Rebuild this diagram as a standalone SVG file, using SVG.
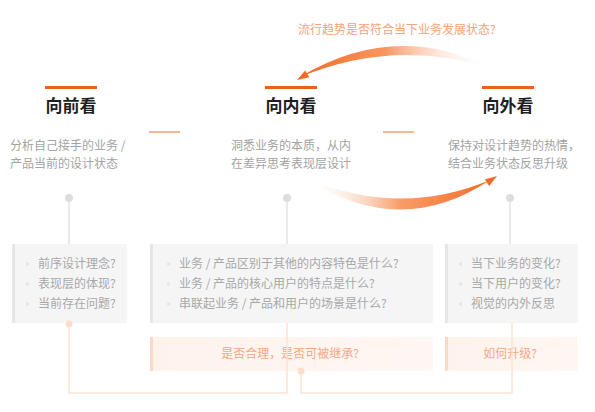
<svg xmlns="http://www.w3.org/2000/svg" width="595" height="412" viewBox="0 0 595 412">
<defs>
<style>
text{font-family:"Noto Sans CJK SC","Noto Sans",sans-serif;}
.title{font-size:17px;font-weight:bold;fill:#1f1f1f;text-anchor:middle;}
.desc{font-size:12px;fill:#a3a3a3;}
.item{font-size:12px;fill:#a8a8a8;}
.q{font-size:12px;fill:#f5a883;text-anchor:middle;}
.bar{fill:#e8621f;}
.sep{fill:#f6b894;}
.box{fill:#f5f5f5;}
.boxedge{fill:#e6e6e6;}
.obox{fill:url(#og);}
.oedge{fill:#fcd9c6;}
.bullet{fill:#e6e6e6;}
.pin{fill:#dedede;}
.pinline{stroke:#e3e3e3;stroke-width:1.5;fill:none;}
.conn{stroke:#fde3d4;stroke-width:1.5;fill:none;}
.dot{fill:#fddccb;}
</style>
<linearGradient id="topg" gradientUnits="userSpaceOnUse" x1="300" y1="0" x2="490" y2="0">
<stop offset="0" stop-color="#f26a25"/>
<stop offset="0.45" stop-color="#f7975f"/>
<stop offset="1" stop-color="#ffffff" stop-opacity="0"/>
</linearGradient>
<linearGradient id="botg" gradientUnits="userSpaceOnUse" x1="305" y1="0" x2="495" y2="0">
<stop offset="0" stop-color="#ffffff" stop-opacity="0"/>
<stop offset="0.5" stop-color="#f89c68"/>
<stop offset="1" stop-color="#f26a25"/>
</linearGradient>
<linearGradient id="og" x1="0" y1="0" x2="1" y2="0">
<stop offset="0" stop-color="#fef3ec"/>
<stop offset="1" stop-color="#fff7f3"/>
</linearGradient>
</defs>

<g id="trend-arc">
<text x="298" y="34" font-size="12" fill="#f5a27b" style="font-size:12px">流行趋势是否符合当下业务发展状态?</text>
<path d="M300 77 Q395 20 490 68 Q395 38 300 77 Z" fill="url(#topg)"/>
<polygon points="297,80 309.4,77.2 305.2,70.4" fill="#f26a25"/>
</g>

<g id="node-forward">
<rect class="bar" x="45" y="86" width="52" height="3"/>
<text class="title" x="71" y="112">向前看</text>
<text class="desc" x="10" y="150">分析自己接手的业务 /</text>
<text class="desc" x="10" y="168">产品当前的设计状态</text>
</g>

<g id="node-inward">
<rect class="bar" x="265" y="86" width="52" height="3"/>
<text class="title" x="291" y="112">向内看</text>
<text class="desc" x="231" y="150">洞悉业务的本质，从内</text>
<text class="desc" x="231" y="168">在差异思考表现层设计</text>
</g>

<g id="node-outward">
<rect class="bar" x="482" y="86" width="52" height="3"/>
<text class="title" x="508" y="112">向外看</text>
<text class="desc" x="448" y="150">保持对设计趋势的热情，</text>
<text class="desc" x="448" y="168">结合业务状态反思升级</text>
</g>

<g id="separators">
<rect class="sep" x="149" y="131" width="31" height="2"/>
<rect class="sep" x="383" y="131" width="31" height="2"/>
</g>

<g id="bottom-arc">
<path d="M305 178 Q400 240 490 180 Q400 218 305 178 Z" fill="url(#botg)"/>
<polygon points="497,176 489.2,186 484.8,179.4" fill="#f26a25"/>
</g>

<g id="pins">
<line class="pinline" x1="69" y1="198" x2="69" y2="244"/>
<circle class="pin" cx="69" cy="198" r="4"/>
<line class="pinline" x1="287" y1="198" x2="287" y2="244"/>
<circle class="pin" cx="287" cy="198" r="4"/>
<line class="pinline" x1="510" y1="198" x2="510" y2="244"/>
<circle class="pin" cx="510" cy="198" r="4"/>
</g>

<g id="box-forward">
<rect class="box" x="12" y="244" width="115" height="79"/>
<rect class="boxedge" x="12" y="244" width="3" height="79"/>
<rect class="bullet" x="26" y="262.5" width="3" height="3"/>
<rect class="bullet" x="26" y="282.5" width="3" height="3"/>
<rect class="bullet" x="26" y="302.5" width="3" height="3"/>
<text class="item" x="38" y="268">前序设计理念?</text>
<text class="item" x="38" y="288">表现层的体现?</text>
<text class="item" x="38" y="308">当前存在问题?</text>
</g>

<g id="box-inward">
<rect class="box" x="150" y="244" width="283" height="79"/>
<rect class="boxedge" x="150" y="244" width="3" height="79"/>
<rect class="bullet" x="167" y="262.5" width="3" height="3"/>
<rect class="bullet" x="167" y="282.5" width="3" height="3"/>
<rect class="bullet" x="167" y="302.5" width="3" height="3"/>
<text class="item" x="179" y="268">业务 / 产品区别于其他的内容特色是什么?</text>
<text class="item" x="179" y="288">业务 / 产品的核心用户的特点是什么?</text>
<text class="item" x="179" y="308">串联起业务 / 产品和用户的场景是什么?</text>
</g>

<g id="box-outward">
<rect class="box" x="445" y="244" width="133" height="79"/>
<rect class="boxedge" x="445" y="244" width="3" height="79"/>
<rect class="bullet" x="459" y="262.5" width="3" height="3"/>
<rect class="bullet" x="459" y="282.5" width="3" height="3"/>
<rect class="bullet" x="459" y="302.5" width="3" height="3"/>
<text class="item" x="471" y="268">当下业务的变化?</text>
<text class="item" x="471" y="288">当下用户的变化?</text>
<text class="item" x="471" y="308">视觉的内外反思</text>
</g>

<g id="question-inward">
<rect class="obox" x="150" y="337" width="283" height="34"/>
<rect class="oedge" x="150" y="337" width="3" height="34"/>
<text class="q" x="290" y="358">是否合理，是否可被继承?</text>
</g>

<g id="question-outward">
<rect class="obox" x="445" y="337" width="133" height="34"/>
<rect class="oedge" x="445" y="337" width="3" height="34"/>
<text class="q" x="510" y="358">如何升级?</text>
</g>

<g id="connectors">
<polyline class="conn" points="69,324 69,393 287,393 287,323"/>
<circle class="dot" cx="69" cy="324" r="3.5"/>
<polyline class="conn" points="301,371 301,393 512,393 512,323"/>
<circle class="dot" cx="301" cy="371" r="3.5"/>
</g>
</svg>
